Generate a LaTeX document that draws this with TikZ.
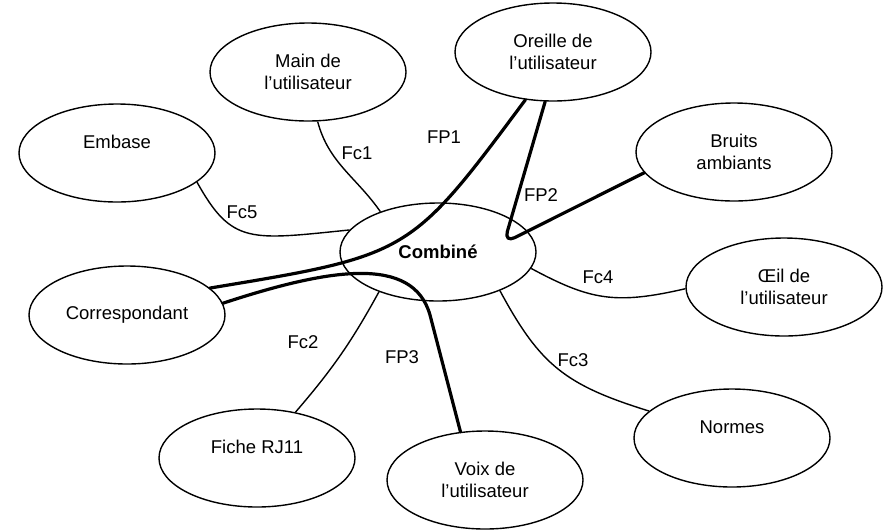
\documentclass[tikz,border=0pt]{standalone}
\usepackage{fontspec}
\setmainfont{Liberation Sans}
\usetikzlibrary{shapes.geometric}

\begin{document}
\begin{tikzpicture}[x=1pt,y=-1pt,every node/.style={font=\fontsize{18.5}{22}\selectfont},
 ell/.style={ellipse,draw,line width=1.4pt,minimum width=196pt,minimum height=98pt,inner sep=0pt,align=center},
 fc/.style={line width=1.4pt},
 fp/.style={line width=3.2pt,line cap=round}]
\useasboundingbox (0,0) rectangle (883,531);
\node[ell] (Ma) at (308,72) {Main de\\l’utilisateur};
\node[ell] (Or) at (553,52) {Oreille de\\l’utilisateur};
\node[ell] (Em) at (117,153) {Embase\\\mbox{}};
\node[ell] (Br) at (734,152) {Bruits\\ambiants};
\node[ell] (Co) at (438,252) {\textbf{Combiné}};
\node[ell] (Cr) at (127,315) {Correspondant};
\node[ell] (Oe) at (784,287) {Œil de\\l’utilisateur};
\node[ell] (Fi) at (257,458) {Fiche RJ11\\\mbox{}};
\node[ell] (Vo) at (485,480) {Voix de\\l’utilisateur};
\node[ell] (No) at (732,438) {Normes\\\mbox{}};
\draw[fc] (Ma.-79) to[out=-75,in=125] (Co.145);
\draw[fc] (Em.-20) .. controls (232,245) and (250,240) .. (Co.166);
\draw[fc] (Co.-10) .. controls (590,300) and (615,305) .. (Oe.181);
\draw[fc] (Co.-32) .. controls (540,365) and (565,385) .. (No.162);
\draw[fc] (Co.214) to[bend left=6] (Fi.50);
\draw[fp] (Cr.18) .. controls (410,255) .. (Or.-120);
\draw[fp,rounded corners=12pt] (Or.-99) -- (504,243) -- (Br.193);
\draw[fp] (Cr.7) .. controls (330,268) and (413,255) .. (430,315) -- (Vo.117);
\node (lFc1) at (357,153) {Fc1};
\node (lFP1) at (444,137) {FP1};
\node (lFP2) at (541,195) {FP2};
\node (lFc5) at (242,212) {Fc5};
\node (lFc4) at (598,277) {Fc4};
\node (lFc2) at (303,342) {Fc2};
\node (lFP3) at (402,357) {FP3};
\node (lFc3) at (573,360) {Fc3};
\end{tikzpicture}
\end{document}
